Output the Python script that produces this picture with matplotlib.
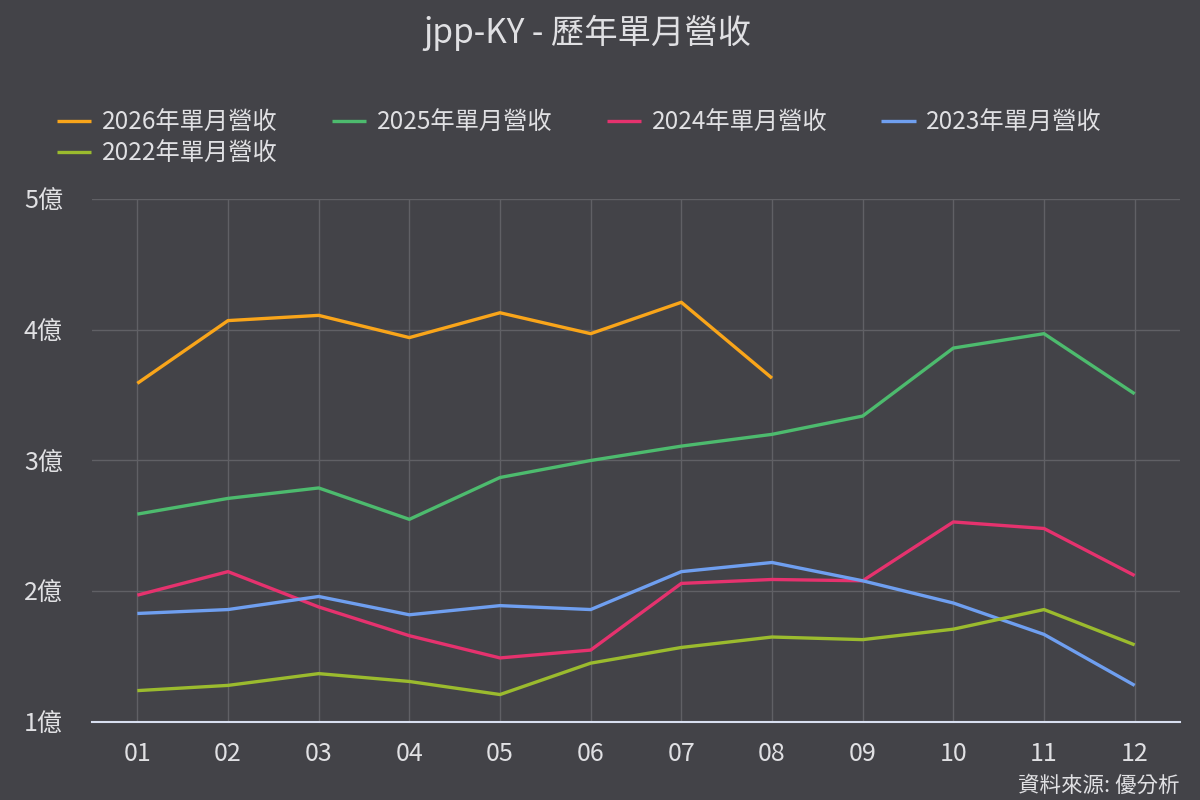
import matplotlib
matplotlib.use("Agg")
import matplotlib.pyplot as plt

plt.rcParams['font.family'] = ['Noto Sans CJK TC', 'DejaVu Sans']

months = ["01", "02", "03", "04", "05", "06", "07", "08", "09", "10", "11", "12"]
y2026 = [3.59, 4.07, 4.11, 3.94, 4.13, 3.97, 4.21, 3.63]
y2025 = [2.59, 2.71, 2.79, 2.55, 2.87, 3.00, 3.11, 3.20, 3.34, 3.86, 3.97, 3.51]
y2024 = [1.97, 2.15, 1.88, 1.66, 1.49, 1.55, 2.06, 2.09, 2.08, 2.53, 2.48, 2.12]
y2023 = [1.83, 1.86, 1.96, 1.82, 1.89, 1.86, 2.15, 2.22, 2.08, 1.91, 1.67, 1.28]
y2022 = [1.24, 1.28, 1.37, 1.31, 1.21, 1.45, 1.57, 1.65, 1.63, 1.71, 1.86, 1.59]
yticks = [1, 2, 3, 4, 5]
ytick_labels = ["1億", "2億", "3億", "4億", "5億"]

series = [
    ("2026年單月營收", y2026, "#f9a51a"),
    ("2025年單月營收", y2025, "#4dbb6e"),
    ("2024年單月營收", y2024, "#e5326e"),
    ("2023年單月營收", y2023, "#6f9ff0"),
    ("2022年單月營收", y2022, "#9bbb2e"),
]

bg = "#434348"
fig = plt.figure(figsize=(12, 8), dpi=100, facecolor=bg)
ax = fig.add_axes([92/1200, 1-722/800, 1088/1200, 523/800], facecolor=bg)

handles = {}
for name, vals, col in series:
    x = list(range(1, len(vals) + 1))
    ln, = ax.plot(x, vals, color=col, lw=2.4, label=name, solid_capstyle='butt', zorder=3)
    handles[name] = ln

ax.set_xlim(0.5, 12.5)
ax.set_ylim(1, 5)
ax.set_xticks(range(1, 13))
ax.set_xticklabels(months)
ax.set_yticks(yticks)
ax.set_yticklabels(ytick_labels)
ax.grid(True, color="#606065", lw=1)
ax.set_axisbelow(True)
for s in ["top", "right", "left"]:
    ax.spines[s].set_visible(False)
ax.spines["bottom"].set_color("#d8dff0")
ax.spines["bottom"].set_linewidth(1.5)
ax.tick_params(axis='both', length=0, colors="#e0e0e3", labelsize=18)
ax.tick_params(axis='x', pad=14)
ax.tick_params(axis='y', pad=21)

fig.text(587/1200, 1-33/800, "jpp-KY - 歷年單月營收", ha='center', va='center', color="#e0e0e3", fontsize=24)

order = ["2026年單月營收", "2022年單月營收", "2025年單月營收", "2024年單月營收", "2023年單月營收"]
leg = fig.legend([handles[n] for n in order], order, ncol=4, loc='upper left',
                 bbox_to_anchor=(57/1200, 1-110/800), frameon=False, fontsize=17.5,
                 handlelength=1.4, handletextpad=0.45, columnspacing=2.23, labelspacing=0.2,
                 borderaxespad=0, borderpad=0)
for t in leg.get_texts():
    t.set_color("#e0e0e3")

fig.text(1180/1200, 1-786/800, "資料來源: 優分析", ha='right', va='center', color="#e0e0e3", fontsize=15.5)

fig.savefig("out.png", dpi=100, facecolor=bg)
